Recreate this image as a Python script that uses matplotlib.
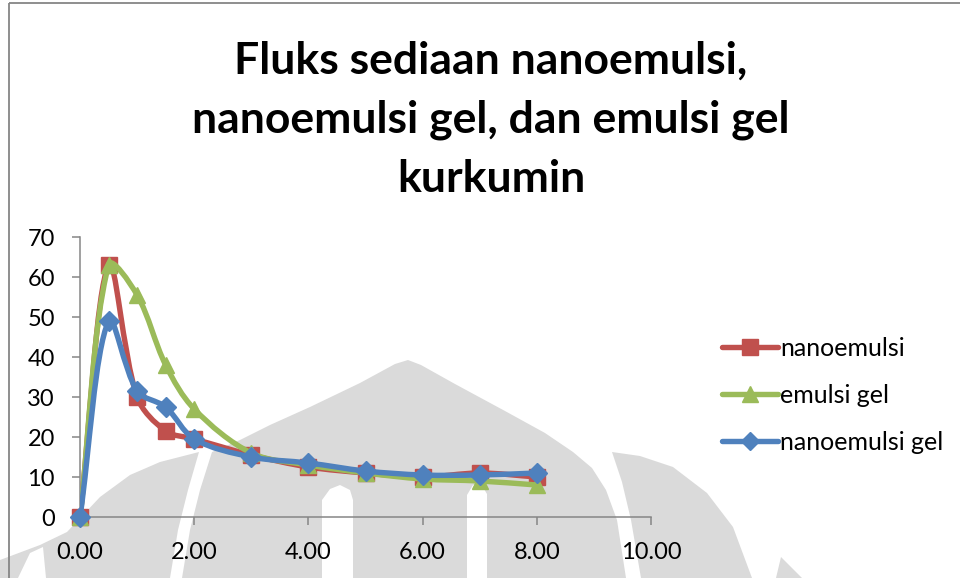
import numpy as np
import matplotlib
matplotlib.use("Agg")
import matplotlib.pyplot as plt
from matplotlib.path import Path
from matplotlib.patches import PathPatch, Polygon, Rectangle

# ---- data -------------------------------------------------------------
time_h = [0, 0.5, 1, 1.5, 2, 3, 4, 5, 6, 7, 8]
nanoemulsi = [0, 63, 30, 21.5, 19.5, 15.5, 12.5, 11, 10, 11, 10]
emulsi_gel = [0, 63, 55.5, 38, 27, 16, 13, 11, 9.5, 9, 8]
nanoemulsi_gel = [0, 49, 31.5, 27.5, 19.5, 15, 13.5, 11.5, 10.5, 10.5, 11]

series_names = ["nanoemulsi", "emulsi gel", "nanoemulsi gel"]
series_colors = ["#C0504D", "#9BBB59", "#4F81BD"]
series_markers = ["s", "^", "D"]

x_ticks = [0, 2, 4, 6, 8, 10]
y_ticks = [0, 10, 20, 30, 40, 50, 60, 70]
title = "Fluks sediaan nanoemulsi,\nnanoemulsi gel, dan emulsi gel\nkurkumin"

plt.rcParams["font.family"] = ["Lato", "DejaVu Sans"]

W, H = 960, 578
fig = plt.figure(figsize=(W / 100, H / 100), dpi=100)

# ---- background: grey emblem watermark (pixel coordinates) -------------
bg = fig.add_axes([0, 0, 1, 1], zorder=0)
bg.set_xlim(0, W)
bg.set_ylim(H, 0)
bg.axis("off")
grey = "#dadada"
dome = [(182, 578), (190, 530), (200, 490), (212, 452), (240, 440), (270, 425),
        (310, 407), (360, 383), (395, 364), (408, 360), (421, 365), (455, 384),
        (505, 411), (545, 433), (573, 452), (592, 468), (606, 490), (617, 520),
        (626, 578)]
right_lobe = [(612, 452), (640, 456), (673, 467), (707, 493), (733, 527),
              (752, 578), (641, 578), (631, 520), (622, 482)]
left_lobe = [(0, 578), (0, 560), (40, 545), (67, 532), (100, 497), (130, 475),
             (160, 462), (199, 452), (188, 490), (178, 530), (170, 578)]
small_wedge = [(776, 578), (781, 557), (802, 578)]
for poly in (dome, right_lobe, left_lobe, small_wedge):
    bg.add_patch(Polygon(poly, closed=True, facecolor=grey, edgecolor="none"))
white_cuts = [
    [(322, 578), (322, 500), (330, 489), (340, 485), (350, 490), (353, 500), (353, 578)],
    [(467, 578), (467, 495), (473, 485), (481, 484), (487, 494), (487, 578)],
    [(18, 578), (30, 553), (43, 547), (46, 578)],
]
for poly in white_cuts:
    bg.add_patch(Polygon(poly, closed=True, facecolor="white", edgecolor="none"))

# chart area border
bg.add_patch(Rectangle((9, 3), 1100, 700, facecolor="none",
                       edgecolor="#868686", linewidth=1.3))

# ---- title -------------------------------------------------------------
fig.text(491 / W, 1 - 120 / H, title, ha="center", va="center",
         fontsize=32, fontweight="bold", linespacing=1.57, color="black")

# ---- main axes ---------------------------------------------------------
ax = fig.add_axes([80 / W, 1 - 517 / H, (651 - 80) / W, (517 - 237) / H], zorder=1)
ax.set_facecolor("none")
ax.set_xlim(0, 10)
ax.set_ylim(0, 70)


def smooth_path(axes, xs, ys):
    """Smoothed Bezier path through the points.

    Tangents follow the neighbouring points; control-arm lengths are
    proportional to the on-screen length of each segment, which keeps
    the curve from overshooting next to very short segments.
    """
    to_px = axes.transData
    pts = to_px.transform(np.column_stack([xs, ys]).astype(float))
    n = len(pts)
    seg = np.hypot(*np.diff(pts, axis=0).T)

    def tangent(i):
        a = pts[max(i - 1, 0)]
        b = pts[min(i + 1, n - 1)]
        return b - a

    def seglen(i):
        return seg[i] if 0 <= i < n - 1 else 0.0

    verts = [pts[0]]
    codes = [Path.MOVETO]
    for i in range(n - 1):
        d = seglen(i)
        c1 = pts[i] + tangent(i) * d / (3.0 * (seglen(i - 1) + d))
        c2 = pts[i + 1] - tangent(i + 1) * d / (3.0 * (d + seglen(i + 1)))
        verts += [c1, c2, pts[i + 1]]
        codes += [Path.CURVE4] * 3
    data_verts = to_px.inverted().transform(np.array(verts))
    return Path(data_verts, codes)


all_series = [nanoemulsi, emulsi_gel, nanoemulsi_gel]
handles = []
for k, (vals, name, col, mk) in enumerate(zip(all_series, series_names,
                                               series_colors, series_markers)):
    z = 3 + k
    ax.add_patch(PathPatch(smooth_path(ax, time_h, vals), facecolor="none",
                           edgecolor=col, linewidth=3.9, zorder=z,
                           capstyle="round", joinstyle="round"))
    msize = 11.5 if mk != "D" else 10
    ax.plot(time_h, vals, linestyle="none", marker=mk, markersize=msize,
            markerfacecolor=col, markeredgecolor=col, zorder=z + 0.5,
            clip_on=False)
    h, = ax.plot([], [], color=col, linewidth=3.9, marker=mk,
                 markersize=msize * 0.95, markerfacecolor=col,
                 markeredgecolor=col, solid_capstyle="round", label=name)
    handles.append(h)

# axes styling
for side in ("top", "right"):
    ax.spines[side].set_visible(False)
for side in ("left", "bottom"):
    ax.spines[side].set_color("#868686")
    ax.spines[side].set_linewidth(1.1)
ax.set_xticks(x_ticks)
ax.set_xticklabels([f"{v:.2f}" for v in x_ticks])
ax.set_yticks(y_ticks)
ax.set_yticklabels([str(v) for v in y_ticks])
ax.tick_params(axis="both", direction="out", length=6, width=1.1,
               color="#868686", labelsize=17, labelcolor="black", pad=12)

leg = fig.legend(handles=handles, loc="upper left",
                 bbox_to_anchor=(722 / W, 1 - 337 / H), frameon=False,
                 fontsize=18, handlelength=2.25, handletextpad=0.08,
                 labelspacing=0.95, numpoints=1, borderpad=0, borderaxespad=0)

fig.savefig("out.png", dpi=100)
